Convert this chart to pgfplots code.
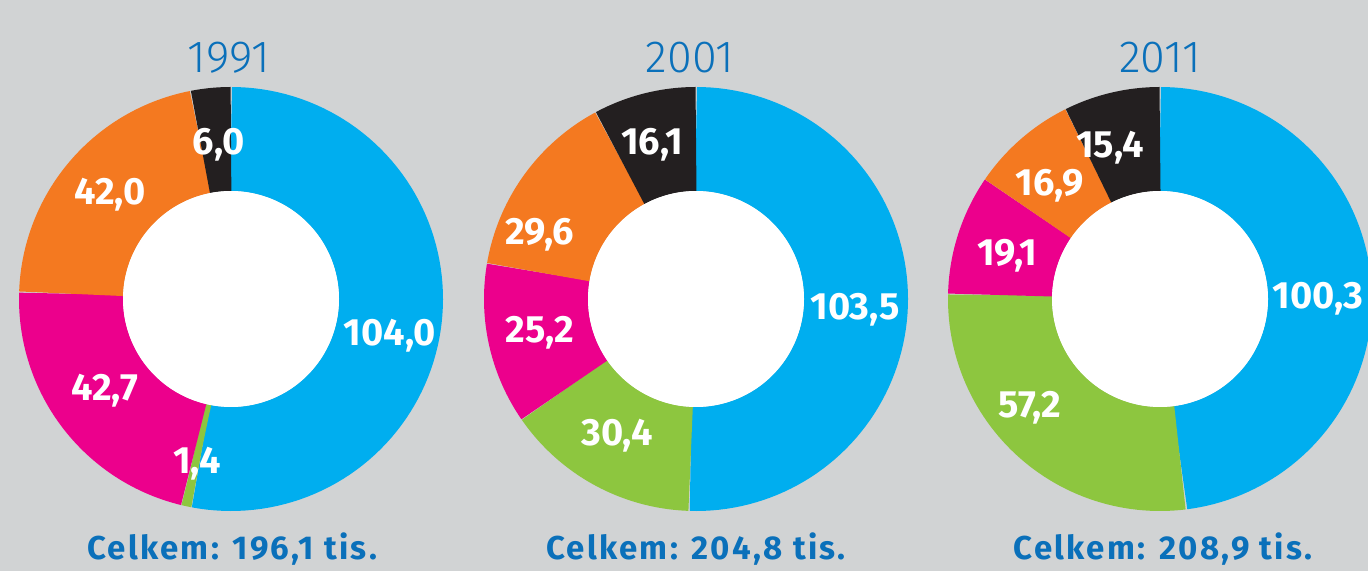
\documentclass[border=0pt]{standalone}
\usepackage{pgfplots}
\pgfplotsset{compat=1.18}
\usepgfplotslibrary{polar}
\usepackage{fontspec}
\setmainfont{Fira Sans}
\newfontfamily\yearfont{Fira Sans Light}
\newfontfamily\totfont{Fira Sans}[LetterSpace=7]
\definecolor{bg}{HTML}{D1D3D4}
\definecolor{cblue}{HTML}{00AEEF}
\definecolor{cgreen}{HTML}{8DC63F}
\definecolor{cmag}{HTML}{EC008C}
\definecolor{corange}{HTML}{F47920}
\definecolor{cblack}{HTML}{231F20}
\definecolor{tblue}{HTML}{0A70BA}

% #1 centre x, #2..#6 values: blue, green, magenta, orange, black
\newcommand\donut[6]{%
\pgfmathsetmacro\T{#2+#3+#4+#5+#6}%
\pgfmathsetmacro\aA{90}%
\pgfmathsetmacro\aB{\aA-360*(#2/\T)}%
\pgfmathsetmacro\aC{\aB-360*(#3/\T)}%
\pgfmathsetmacro\aD{\aC-360*(#4/\T)}%
\pgfmathsetmacro\aE{\aD-360*(#5/\T)}%
\pgfmathsetmacro\aF{\aE-360*(#6/\T)}%
\begin{polaraxis}[at={(#1,136pt)}, anchor=center, scale only axis,
  width=212pt, height=212pt, xmin=0, xmax=360, ymin=0, ymax=212,
  hide axis, clip=false]
\addplot[cblue, line width=52pt, domain=\aB:\aA, samples=90, no marks] {160};
\addplot[cgreen, line width=52pt, domain=\aC:\aB, samples=60, no marks] {160};
\addplot[cmag, line width=52pt, domain=\aD:\aC, samples=60, no marks] {160};
\addplot[corange, line width=52pt, domain=\aE:\aD, samples=60, no marks] {160};
\addplot[cblack, line width=52pt, domain=\aF:\aE, samples=30, no marks] {160};
\addplot[draw=none, fill=white, domain=0:360, samples=180, no marks] {108};
\end{polaraxis}}

\begin{document}
\begin{tikzpicture}
\path[use as bounding box] (0,0) rectangle (684pt,285.5pt);
\clip (0,0) rectangle (684pt,285.5pt);
\fill[bg] (0,0) rectangle (684pt,285.5pt);
\donut{115.5pt}{104.0}{1.4}{42.7}{42.0}{6.0}
\donut{348pt}{103.5}{30.4}{25.2}{29.6}{16.1}
\donut{580pt}{100.3}{57.2}{19.1}{16.9}{15.4}
\begin{scope}[x=0.5pt,y=-0.5pt,shift={(0,285.5pt)}]
\tikzset{num/.style={anchor=base, text=white, font=\fontsize{19}{19}\selectfont\bfseries, inner sep=0pt},
 yr/.style={anchor=base, text=tblue, font=\fontsize{22.5}{22.5}\selectfont\yearfont, inner sep=0pt},
 tot/.style={anchor=base, text=tblue, font=\fontsize{16.5}{16.5}\selectfont\totfont\bfseries, inner sep=0pt}}
\node[yr] at (229,73) {1991};
\node[yr] at (690,73) {2001};
\node[yr] at (1160,73) {2011};
\node[tot] at (232,560) {Celkem: 196,1 tis.};
\node[tot] at (696,560) {Celkem: 204,8 tis.};
\node[tot] at (1163,560) {Celkem: 208,9 tis.};
\node[num] at (390,346) {104,0};
\node[num] at (197,474) {1,4};
\node[num] at (105,401) {42,7};
\node[num] at (110,205) {42,0};
\node[num] at (219,155) {6,0};
\node[num] at (652,155) {16,1};
\node[num] at (540,245) {29,6};
\node[num] at (540,343) {25,2};
\node[num] at (617,446) {30,4};
\node[num] at (855,320) {103,5};
\node[num] at (1110,158) {15,4};
\node[num] at (1050,196) {16,9};
\node[num] at (1007,266) {19,1};
\node[num] at (1030,418) {57,2};
\node[num] at (1318,309) {100,3};
\end{scope}
\end{tikzpicture}
\end{document}
